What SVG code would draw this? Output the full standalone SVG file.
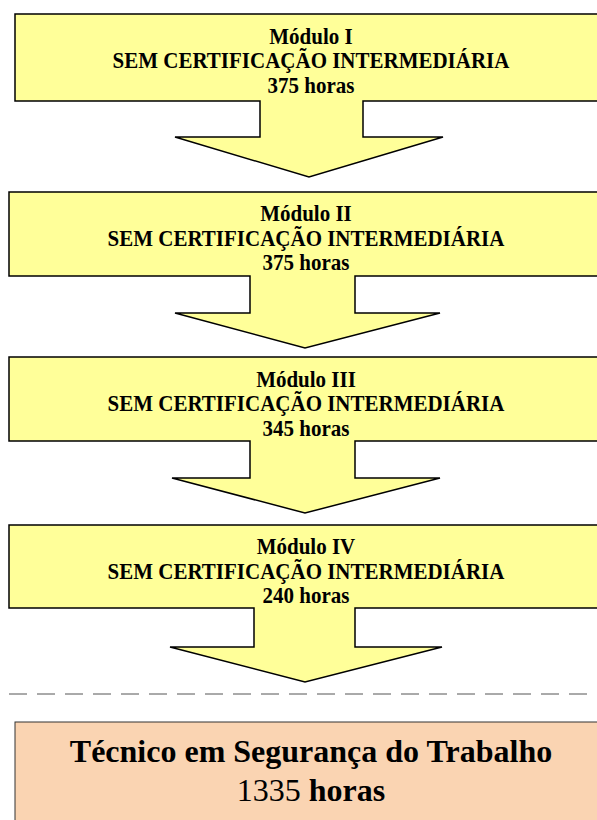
<svg xmlns="http://www.w3.org/2000/svg" width="597" height="820" viewBox="0 0 597 820">
<style>
.blk{fill:#FFFF99;stroke:#000;stroke-width:1.5;stroke-linejoin:miter}
.t{font-family:"Liberation Serif","Times New Roman",serif;font-weight:bold;font-size:22.5px;text-anchor:middle;fill:#000}
.b{font-family:"Liberation Serif","Times New Roman",serif;font-size:32px;text-anchor:middle;fill:#000}
</style>
<rect width="597" height="820" fill="#fff"/>
<g id="mod1">
<path class="blk" d="M15,14 H600 V101 H363 V137 H443 L309,177 L175,137 H260 V101 H15 Z"/>
<g transform="translate(311,0) scale(0.933,1)">
<text class="t" x="0" y="44">Módulo I</text>
<text class="t" x="0" y="68.5">SEM CERTIFICAÇÃO INTERMEDIÁRIA</text>
<text class="t" x="0" y="93">375 horas</text>
</g>
</g>
<g id="mod2">
<path class="blk" d="M9,192 H600 V276 H355 V313 H440 L305,348 L175,313 H250 V276 H9 Z"/>
<g transform="translate(306,0) scale(0.933,1)">
<text class="t" x="0" y="221">Módulo II</text>
<text class="t" x="0" y="246">SEM CERTIFICAÇÃO INTERMEDIÁRIA</text>
<text class="t" x="0" y="270.5">375 horas</text>
</g>
</g>
<g id="mod3">
<path class="blk" d="M9,357 H600 V441 H355 V478 H440 L305,513 L172,478 H250 V441 H9 Z"/>
<g transform="translate(306,0) scale(0.933,1)">
<text class="t" x="0" y="387">Módulo III</text>
<text class="t" x="0" y="411.5">SEM CERTIFICAÇÃO INTERMEDIÁRIA</text>
<text class="t" x="0" y="436">345 horas</text>
</g>
</g>
<g id="mod4">
<path class="blk" d="M9,525 H600 V608 H355 V647 H442 L305,682 L170,647 H254 V608 H9 Z"/>
<g transform="translate(306,0) scale(0.933,1)">
<text class="t" x="0" y="554">Módulo IV</text>
<text class="t" x="0" y="579">SEM CERTIFICAÇÃO INTERMEDIÁRIA</text>
<text class="t" x="0" y="603.5">240 horas</text>
</g>
</g>
<g id="connectors">
<line x1="9" y1="694" x2="597" y2="694" stroke="#555" stroke-width="1" stroke-dasharray="18,10"/>
</g>
<g id="total">
<rect x="15" y="722" width="590" height="110" fill="#FAD4B2" stroke="#333" stroke-width="1"/>
<text class="b" x="311" y="762" font-weight="bold">Técnico em Segurança do Trabalho</text>
<text class="b" x="311" y="801">1335 <tspan font-weight="bold">horas</tspan></text>
</g>
</svg>
